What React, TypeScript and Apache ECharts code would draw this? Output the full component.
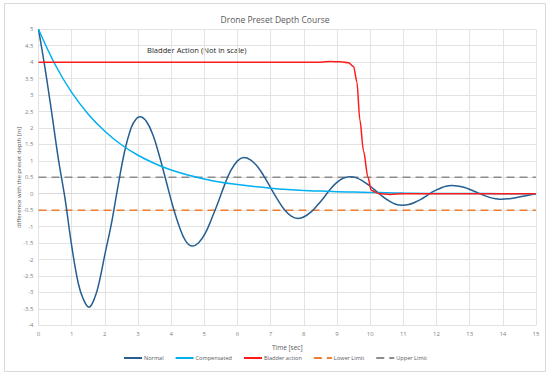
import React, { useEffect, useRef } from "react";
import * as echarts from "echarts";

const titleText = "Drone Preset Depth Course";
const xAxisName = "Time [sec]";
const yAxisName = "difference with the preset depth [m]";
const annotationText = "Bladder Action (Not in scale)";
const seriesNames = ["Normal", "Compensated", "Bladder action", "Lower Limit", "Upper Limit"];

const normalData: number[][] = [
  [0, 5], [0.2, 3.8], [0.4, 2.45], [0.6, 1.05], [0.8, -0.15], [1.0, -1.58], [1.2, -2.73], [1.35, -3.2],
  [1.52, -3.45], [1.7, -3.15], [1.85, -2.6], [2.0, -1.85], [2.2, -0.9], [2.4, 0.25], [2.6, 1.3], [2.8, 2.02],
  [2.95, 2.28], [3.06, 2.34], [3.26, 2.19], [3.46, 1.76], [3.65, 1.13], [3.85, 0.38], [4.05, -0.38],
  [4.25, -1.01], [4.44, -1.44], [4.64, -1.59], [4.83, -1.49], [5.03, -1.2], [5.22, -0.76], [5.42, -0.25],
  [5.61, 0.27], [5.8, 0.71], [6.0, 1.0], [6.19, 1.1], [6.39, 1.03], [6.6, 0.83], [6.8, 0.53], [7.0, 0.18],
  [7.21, -0.18], [7.41, -0.48], [7.62, -0.68], [7.82, -0.75], [8.01, -0.7], [8.21, -0.56], [8.4, -0.36],
  [8.6, -0.12], [8.79, 0.13], [8.98, 0.33], [9.18, 0.47], [9.37, 0.52], [9.57, 0.49], [9.77, 0.39],
  [9.97, 0.25], [10.17, 0.09], [10.37, -0.08], [10.57, -0.22], [10.77, -0.32], [10.97, -0.35],
  [11.16, -0.33], [11.35, -0.26], [11.53, -0.17], [11.72, -0.05], [11.91, 0.07], [12.1, 0.16],
  [12.28, 0.23], [12.47, 0.25], [12.66, 0.23], [12.85, 0.19], [13.03, 0.12], [13.22, 0.04], [13.41, -0.04],
  [13.6, -0.11], [13.78, -0.15], [13.97, -0.17], [14.2, -0.15], [14.45, -0.11], [14.7, -0.06], [15, 0.0],
];

const compensatedData: number[][] = [
  [0, 5], [0.5, 3.93], [1, 3.08], [1.5, 2.42], [2, 1.9], [2.5, 1.49], [3, 1.17], [3.5, 0.92], [4, 0.72],
  [4.5, 0.57], [5, 0.45], [5.5, 0.35], [6, 0.28], [6.5, 0.22], [7, 0.17], [7.5, 0.13], [8, 0.1], [8.5, 0.08],
  [9, 0.06], [9.5, 0.05], [10, 0.04], [10.5, 0.03], [11, 0.02], [12, 0.01], [13, 0.01], [14, 0.0], [15, 0.0],
];

const bladderData: number[][] = [
  [0, 4], [2, 4], [4, 4], [6, 4], [8, 4], [8.5, 4.0], [8.8, 4.02], [9.1, 4.01], [9.35, 3.98], [9.5, 3.87],
  [9.6, 3.4], [9.69, 2.24], [9.8, 1.3], [9.93, 0.52], [10.03, 0.11], [10.26, 0.01], [10.6, -0.02],
  [11, 0], [13, 0], [15, 0],
];

const lowerLimitData: number[][] = [[0, -0.5], [15, -0.5]];
const upperLimitData: number[][] = [[0, 0.5], [15, 0.5]];

const colors = ["#255e91", "#00b0f0", "#ff1a1a", "#ed7d31", "#8c8c8c"];
const FONT = "'Open Sans', sans-serif";

export default function App() {
  const ref = useRef<HTMLDivElement>(null);
  useEffect(() => {
    if (!ref.current) return;
    const chart = echarts.init(ref.current, undefined, { renderer: "svg" });
    const labelStyle = { color: "#7f7f7f", fontSize: 6, fontFamily: FONT };
    const dashed = [8, 5];
    chart.setOption({
      animation: false,
      backgroundColor: "#ffffff",
      color: colors,
      title: {
        text: titleText,
        left: "center",
        top: 10,
        textStyle: { color: "#595959", fontSize: 8.5, fontWeight: "normal", fontFamily: FONT },
      },
      legend: {
        bottom: 11,
        left: "center",
        itemWidth: 18,
        itemHeight: 4,
        itemGap: 11,
        itemStyle: { opacity: 0 },
        lineStyle: { width: 2 },
        textStyle: { color: "#595959", fontSize: 5.6, fontFamily: FONT, padding: [0, 0, 0, -3] },
        data: seriesNames,
      },
      grid: { left: 38.5, right: 14, top: 29.3, bottom: 51.7, containLabel: false, outerBoundsMode: "none" },
      xAxis: {
        type: "value",
        min: 0,
        max: 15,
        interval: 1,
        name: xAxisName,
        nameLocation: "middle",
        nameGap: 19,
        nameMoveOverlap: false,
        nameTextStyle: { color: "#595959", fontSize: 6.5, fontFamily: FONT },
        axisLine: { show: true, lineStyle: { color: "#d9d9d9", width: 1 } },
        axisTick: { show: false },
        axisLabel: { ...labelStyle, margin: 6 },
        splitLine: { show: true, lineStyle: { color: "#e3e3e3", width: 1 } },
      },
      yAxis: {
        type: "value",
        min: -4,
        max: 5,
        interval: 0.5,
        name: yAxisName,
        nameLocation: "middle",
        nameGap: 17,
        nameMoveOverlap: false,
        nameTextStyle: { color: "#595959", fontSize: 6, fontFamily: FONT },
        axisLine: { show: true, lineStyle: { color: "#e3e3e3", width: 1 } },
        axisTick: { show: false },
        axisLabel: { ...labelStyle, margin: 5 },
        splitLine: { show: true, lineStyle: { color: "#e3e3e3", width: 1 } },
      },
      graphic: [
        {
          type: "rect",
          shape: { x: 4.5, y: 3.5, width: 541, height: 368 },
          style: { fill: "none", stroke: "#d9d9d9", lineWidth: 1 },
          silent: true,
          z: -1,
        },
        {
          type: "text",
          left: 147,
          top: 46,
          style: { text: annotationText, fill: "#262626", fontSize: 7.6, fontFamily: FONT },
        },
      ],
      series: [
        {
          name: seriesNames[0],
          type: "line",
          data: normalData,
          smooth: 0.4,
          showSymbol: false,
          symbol: "none",
          lineStyle: { color: colors[0], width: 1.5 },
          z: 3,
        },
        {
          name: seriesNames[1],
          type: "line",
          data: compensatedData,
          smooth: 0.4,
          showSymbol: false,
          symbol: "none",
          lineStyle: { color: colors[1], width: 1.5 },
          z: 4,
        },
        {
          name: seriesNames[2],
          type: "line",
          data: bladderData,
          smooth: 0.3,
          smoothMonotone: "x",
          showSymbol: false,
          symbol: "none",
          lineStyle: { color: colors[2], width: 1.5 },
          z: 5,
        },
        {
          name: seriesNames[3],
          type: "line",
          data: lowerLimitData,
          showSymbol: false,
          symbol: "none",
          lineStyle: { color: colors[3], width: 1.5, type: dashed },
          z: 2,
        },
        {
          name: seriesNames[4],
          type: "line",
          data: upperLimitData,
          showSymbol: false,
          symbol: "none",
          lineStyle: { color: colors[4], width: 1.5, type: dashed },
          z: 2,
        },
      ],
    });
    return () => chart.dispose();
  }, []);
  return (
    <div
      ref={ref}
      style={{ position: "absolute", left: 0, top: 0, width: 550, height: 377, background: "#fff" }}
    />
  );
}
